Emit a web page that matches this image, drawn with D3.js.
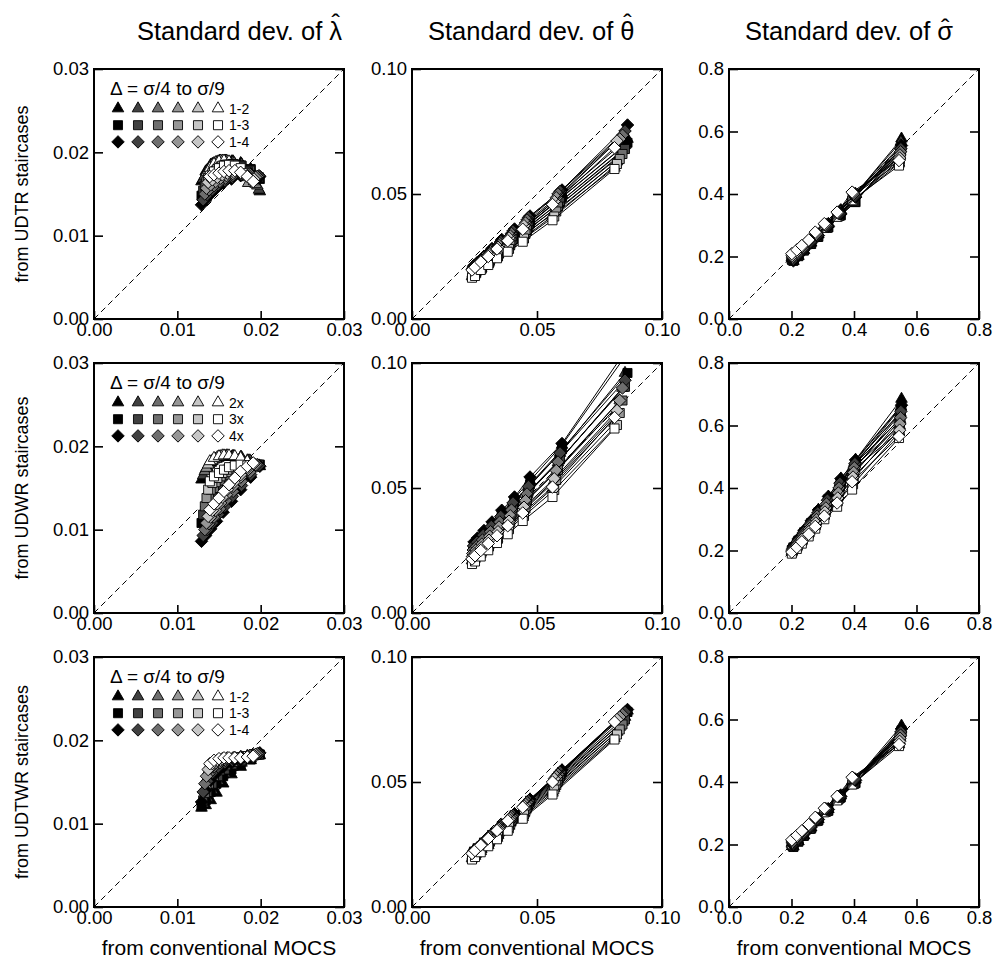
<!DOCTYPE html>
<html><head><meta charset="utf-8">
<script src="https://cdn.jsdelivr.net/npm/d3@7"></script>
<style>body{margin:0;background:#fff;} text{font-family:"Liberation Sans",Arial,Helvetica,sans-serif;}</style>
</head><body>
<svg id="chart" width="994" height="965"></svg>
<script>
// ---------- labels & styling arrays ----------
const grays = ["#000000","#404040","#6e6e6e","#969696","#c6c6c6","#ffffff"];
const shapes = ["triangle","square","diamond"];
const rowLabels = ["from UDTR staircases","from UDWR staircases","from UDTWR staircases"];
const legendTitle = "Δ = σ/4 to σ/9";
const legendLabels = [["1-2","1-3","1-4"],["2x","3x","4x"],["1-2","1-3","1-4"]];
const colParams = ["λ","θ","σ"];
const xAxisLabel = "from conventional MOCS";
const lambdaTicks = [0,0.01,0.02,0.03];
const thetaTicks = [0,0.05,0.10];
const sigmaTicks = [0,0.2,0.4,0.6,0.8];

// ---------- x values (conventional MOCS SD), per gray level ----------
const lamX = [
 [0.0129,0.0134,0.0140,0.0147,0.0155,0.0165,0.0176,0.0188,0.0199],
 [0.0131,0.0136,0.0142,0.0149,0.0157,0.0166,0.0177,0.0188,0.0198],
 [0.0133,0.0138,0.0144,0.0151,0.0158,0.0167,0.0177,0.0187,0.0196],
 [0.0135,0.0140,0.0146,0.0152,0.0159,0.0167,0.0176,0.0185,0.0194],
 [0.0137,0.0142,0.0148,0.0154,0.0160,0.0168,0.0176,0.0184,0.0192],
 [0.0139,0.0144,0.0150,0.0156,0.0162,0.0169,0.0176,0.0184,0.0191]];
const thX = [
 [0.0248,0.0262,0.0288,0.0320,0.0359,0.0410,0.0472,0.0600,0.0862],
 [0.0246,0.0260,0.0285,0.0317,0.0355,0.0404,0.0466,0.0592,0.0852],
 [0.0245,0.0258,0.0282,0.0314,0.0351,0.0398,0.0460,0.0584,0.0842],
 [0.0243,0.0256,0.0280,0.0311,0.0348,0.0393,0.0454,0.0577,0.0831],
 [0.0242,0.0254,0.0277,0.0308,0.0344,0.0388,0.0448,0.0569,0.0820],
 [0.0240,0.0252,0.0275,0.0305,0.0340,0.0383,0.0443,0.0562,0.0810]];
const sgX = [
 [0.206,0.222,0.240,0.263,0.286,0.318,0.358,0.405,0.552],
 [0.205,0.221,0.238,0.261,0.284,0.315,0.355,0.403,0.550],
 [0.204,0.220,0.237,0.259,0.282,0.312,0.352,0.401,0.549],
 [0.203,0.219,0.236,0.258,0.280,0.310,0.350,0.399,0.547],
 [0.202,0.218,0.234,0.256,0.278,0.307,0.348,0.397,0.546],
 [0.201,0.217,0.233,0.255,0.276,0.305,0.346,0.394,0.544]];

// ---------- y values: row 1 (UDTR) ----------
const r1LamT = [
 [0.0165,0.0177,0.0185,0.0188,0.0189,0.0189,0.0187,0.0180,0.0153],
 [0.0168,0.0179,0.0186,0.0189,0.0190,0.0189,0.0186,0.0178,0.0155],
 [0.0172,0.0181,0.0187,0.0190,0.0190,0.0189,0.0185,0.0172,0.0160],
 [0.0176,0.0183,0.0188,0.0190,0.0190,0.0188,0.0178,0.0163,0.0162],
 [0.0179,0.0185,0.0188,0.0190,0.0189,0.0187,0.0181,0.0170,0.0165],
 [0.0181,0.0186,0.0189,0.0190,0.0189,0.0186,0.0182,0.0174,0.0168]];
const r1LamS = [
 [0.0148,0.0160,0.0170,0.0178,0.0183,0.0185,0.0184,0.0180,0.0168],
 [0.0154,0.0164,0.0173,0.0180,0.0184,0.0186,0.0184,0.0179,0.0170],
 [0.0160,0.0168,0.0176,0.0181,0.0185,0.0186,0.0184,0.0178,0.0171],
 [0.0165,0.0172,0.0178,0.0183,0.0185,0.0186,0.0183,0.0177,0.0172],
 [0.0169,0.0175,0.0180,0.0184,0.0185,0.0185,0.0182,0.0176,0.0172],
 [0.0172,0.0177,0.0181,0.0184,0.0185,0.0184,0.0181,0.0175,0.0171]];
const r1LamD = [
 [0.0137,0.0143,0.0150,0.0157,0.0163,0.0168,0.0172,0.0174,0.0171],
 [0.0143,0.0149,0.0155,0.0161,0.0166,0.0170,0.0173,0.0174,0.0172],
 [0.0150,0.0155,0.0160,0.0165,0.0169,0.0172,0.0174,0.0174,0.0171],
 [0.0157,0.0161,0.0165,0.0169,0.0172,0.0174,0.0175,0.0173,0.0170],
 [0.0164,0.0167,0.0170,0.0173,0.0175,0.0176,0.0175,0.0172,0.0168],
 [0.0171,0.0173,0.0175,0.0177,0.0178,0.0178,0.0176,0.0171,0.0165]];
const r1ThT = [
 [0.0200,0.0211,0.0234,0.0263,0.0297,0.0338,0.0392,0.0498,0.0720],
 [0.0194,0.0204,0.0226,0.0254,0.0287,0.0326,0.0377,0.0480,0.0695],
 [0.0188,0.0198,0.0219,0.0246,0.0277,0.0314,0.0362,0.0462,0.0675],
 [0.0182,0.0192,0.0212,0.0238,0.0268,0.0302,0.0349,0.0445,0.0655],
 [0.0176,0.0185,0.0204,0.0229,0.0258,0.0290,0.0335,0.0428,0.0630],
 [0.0170,0.0180,0.0198,0.0222,0.0249,0.0280,0.0322,0.0412,0.0605]];
const r1ThS = [
 [0.0196,0.0207,0.0230,0.0258,0.0292,0.0332,0.0385,0.0488,0.0705],
 [0.0190,0.0200,0.0222,0.0250,0.0282,0.0320,0.0370,0.0468,0.0680],
 [0.0184,0.0194,0.0215,0.0242,0.0272,0.0308,0.0356,0.0450,0.0660],
 [0.0178,0.0188,0.0208,0.0233,0.0262,0.0297,0.0342,0.0430,0.0640],
 [0.0172,0.0181,0.0200,0.0224,0.0250,0.0280,0.0322,0.0410,0.0620],
 [0.0165,0.0172,0.0196,0.0216,0.0243,0.0269,0.0309,0.0395,0.0600]];
const r1ThD = [
 [0.0214,0.0227,0.0251,0.0282,0.0318,0.0360,0.0412,0.0516,0.0776],
 [0.0210,0.0222,0.0246,0.0276,0.0310,0.0352,0.0406,0.0510,0.0752],
 [0.0206,0.0218,0.0241,0.0269,0.0302,0.0342,0.0396,0.0500,0.0735],
 [0.0202,0.0213,0.0235,0.0262,0.0294,0.0332,0.0384,0.0485,0.0720],
 [0.0199,0.0210,0.0231,0.0257,0.0287,0.0324,0.0373,0.0470,0.0712],
 [0.0196,0.0207,0.0228,0.0250,0.0280,0.0313,0.0359,0.0458,0.0685]];
const r1SgT = [
 [0.185,0.201,0.220,0.244,0.271,0.304,0.348,0.400,0.577],
 [0.187,0.203,0.221,0.244,0.270,0.302,0.345,0.399,0.567],
 [0.189,0.205,0.222,0.244,0.269,0.300,0.342,0.397,0.555],
 [0.192,0.207,0.223,0.244,0.268,0.298,0.339,0.395,0.540],
 [0.195,0.209,0.224,0.244,0.268,0.297,0.336,0.393,0.520],
 [0.198,0.211,0.226,0.245,0.268,0.296,0.333,0.392,0.500]];
const r1SgS = [
 [0.186,0.201,0.219,0.240,0.263,0.293,0.332,0.374,0.550],
 [0.188,0.203,0.220,0.240,0.263,0.292,0.331,0.375,0.538],
 [0.190,0.205,0.221,0.241,0.264,0.292,0.330,0.376,0.525],
 [0.193,0.207,0.222,0.242,0.264,0.292,0.329,0.377,0.512],
 [0.196,0.209,0.224,0.243,0.265,0.292,0.328,0.378,0.500],
 [0.200,0.212,0.226,0.244,0.266,0.292,0.327,0.380,0.491]];
const r1SgD = [
 [0.186,0.203,0.222,0.244,0.267,0.297,0.336,0.390,0.555],
 [0.190,0.206,0.224,0.245,0.268,0.298,0.337,0.393,0.545],
 [0.194,0.209,0.226,0.246,0.269,0.299,0.338,0.397,0.535],
 [0.198,0.212,0.228,0.248,0.271,0.300,0.339,0.400,0.525],
 [0.203,0.216,0.231,0.250,0.274,0.302,0.340,0.403,0.515],
 [0.209,0.221,0.235,0.253,0.278,0.305,0.342,0.406,0.507]];

// ---------- y values: row 2 (UDWR) ----------
const r2LamT = [
 [0.0160,0.0172,0.0180,0.0185,0.0187,0.0187,0.0185,0.0181,0.0176],
 [0.0165,0.0175,0.0182,0.0186,0.0188,0.0188,0.0186,0.0182,0.0177],
 [0.0170,0.0178,0.0184,0.0187,0.0188,0.0188,0.0187,0.0183,0.0177],
 [0.0174,0.0181,0.0185,0.0188,0.0189,0.0188,0.0187,0.0183,0.0177],
 [0.0178,0.0183,0.0187,0.0189,0.0189,0.0188,0.0187,0.0183,0.0177],
 [0.0182,0.0186,0.0188,0.0189,0.0189,0.0188,0.0186,0.0182,0.0176]];
const r2LamS = [
 [0.0108,0.0122,0.0136,0.0148,0.0158,0.0166,0.0172,0.0176,0.0178],
 [0.0118,0.0131,0.0143,0.0154,0.0162,0.0169,0.0174,0.0177,0.0178],
 [0.0128,0.0140,0.0150,0.0159,0.0166,0.0171,0.0175,0.0177,0.0178],
 [0.0138,0.0148,0.0157,0.0164,0.0169,0.0173,0.0176,0.0177,0.0177],
 [0.0148,0.0156,0.0162,0.0168,0.0172,0.0175,0.0177,0.0177,0.0176],
 [0.0158,0.0164,0.0168,0.0172,0.0175,0.0177,0.0178,0.0177,0.0175]];
const r2LamD = [
 [0.0086,0.0093,0.0101,0.0110,0.0121,0.0134,0.0148,0.0163,0.0176],
 [0.0093,0.0100,0.0108,0.0118,0.0128,0.0140,0.0153,0.0166,0.0177],
 [0.0100,0.0107,0.0115,0.0125,0.0135,0.0146,0.0158,0.0169,0.0178],
 [0.0108,0.0115,0.0123,0.0132,0.0142,0.0152,0.0163,0.0172,0.0178],
 [0.0116,0.0123,0.0131,0.0139,0.0148,0.0157,0.0166,0.0174,0.0179],
 [0.0124,0.0131,0.0138,0.0146,0.0154,0.0162,0.0170,0.0176,0.0180]];
const r2ThT = [
 [0.0278,0.0293,0.0323,0.0358,0.0402,0.0459,0.0529,0.0672,0.1040],
 [0.0266,0.0281,0.0308,0.0342,0.0383,0.0436,0.0503,0.0640,0.0960],
 [0.0252,0.0266,0.0291,0.0323,0.0362,0.0410,0.0474,0.0602,0.0900],
 [0.0238,0.0251,0.0274,0.0305,0.0341,0.0385,0.0445,0.0566,0.0850],
 [0.0224,0.0236,0.0258,0.0287,0.0320,0.0361,0.0417,0.0530,0.0800],
 [0.0210,0.0222,0.0242,0.0270,0.0300,0.0338,0.0392,0.0498,0.0760]];
const r2ThS = [
 [0.0269,0.0285,0.0314,0.0349,0.0391,0.0447,0.0515,0.0655,0.0960],
 [0.0254,0.0269,0.0296,0.0330,0.0369,0.0420,0.0485,0.0615,0.0905],
 [0.0238,0.0252,0.0276,0.0307,0.0344,0.0390,0.0451,0.0573,0.0850],
 [0.0222,0.0235,0.0257,0.0286,0.0320,0.0362,0.0418,0.0532,0.0800],
 [0.0208,0.0219,0.0239,0.0266,0.0297,0.0335,0.0388,0.0492,0.0752],
 [0.0196,0.0206,0.0226,0.0251,0.0280,0.0315,0.0368,0.0464,0.0738]];
const r2ThD = [
 [0.0284,0.0300,0.0330,0.0364,0.0411,0.0464,0.0544,0.0678,0.1060],
 [0.0268,0.0283,0.0311,0.0346,0.0386,0.0440,0.0506,0.0640,0.0931],
 [0.0252,0.0266,0.0292,0.0325,0.0364,0.0412,0.0476,0.0604,0.0900],
 [0.0238,0.0252,0.0276,0.0307,0.0344,0.0389,0.0449,0.0570,0.0850],
 [0.0226,0.0239,0.0261,0.0291,0.0325,0.0367,0.0423,0.0537,0.0810],
 [0.0216,0.0229,0.0250,0.0278,0.0309,0.0349,0.0400,0.0504,0.0782]];
const r2SgT = [
 [0.216,0.238,0.263,0.294,0.330,0.372,0.430,0.490,0.685],
 [0.212,0.233,0.257,0.287,0.321,0.362,0.417,0.485,0.660],
 [0.208,0.228,0.251,0.280,0.312,0.352,0.404,0.480,0.640],
 [0.204,0.223,0.245,0.272,0.303,0.341,0.391,0.473,0.620],
 [0.200,0.218,0.238,0.264,0.293,0.330,0.377,0.465,0.600],
 [0.196,0.212,0.231,0.256,0.283,0.318,0.362,0.455,0.580]];
const r2SgS = [
 [0.210,0.232,0.258,0.288,0.322,0.364,0.419,0.478,0.660],
 [0.206,0.227,0.251,0.280,0.312,0.352,0.404,0.463,0.640],
 [0.202,0.222,0.244,0.272,0.302,0.340,0.389,0.447,0.620],
 [0.198,0.216,0.237,0.263,0.292,0.327,0.373,0.430,0.600],
 [0.194,0.211,0.230,0.254,0.281,0.314,0.357,0.412,0.580],
 [0.190,0.205,0.222,0.245,0.270,0.300,0.340,0.395,0.560]];
const r2SgD = [
 [0.215,0.238,0.264,0.295,0.330,0.373,0.430,0.490,0.665],
 [0.211,0.233,0.257,0.287,0.320,0.361,0.415,0.478,0.645],
 [0.207,0.228,0.250,0.279,0.310,0.349,0.400,0.465,0.625],
 [0.203,0.222,0.243,0.270,0.299,0.336,0.384,0.450,0.605],
 [0.199,0.216,0.236,0.261,0.288,0.323,0.368,0.435,0.585],
 [0.195,0.210,0.228,0.252,0.277,0.310,0.352,0.420,0.565]];

// ---------- y values: row 3 (UDTWR) ----------
const r3LamT = [
 [0.0119,0.0122,0.0128,0.0137,0.0148,0.0159,0.0168,0.0176,0.0182],
 [0.0124,0.0131,0.0140,0.0151,0.0160,0.0168,0.0173,0.0178,0.0182],
 [0.0131,0.0141,0.0151,0.0160,0.0167,0.0172,0.0176,0.0179,0.0182],
 [0.0140,0.0151,0.0160,0.0167,0.0172,0.0175,0.0178,0.0180,0.0182],
 [0.0150,0.0160,0.0167,0.0172,0.0175,0.0177,0.0179,0.0181,0.0182],
 [0.0160,0.0168,0.0173,0.0176,0.0178,0.0179,0.0180,0.0181,0.0182]];
const r3LamS = [
 [0.0121,0.0128,0.0138,0.0148,0.0157,0.0165,0.0171,0.0177,0.0183],
 [0.0128,0.0138,0.0148,0.0157,0.0165,0.0171,0.0175,0.0179,0.0183],
 [0.0137,0.0148,0.0157,0.0164,0.0170,0.0174,0.0177,0.0180,0.0183],
 [0.0147,0.0157,0.0165,0.0170,0.0174,0.0177,0.0179,0.0181,0.0183],
 [0.0157,0.0165,0.0171,0.0174,0.0177,0.0178,0.0179,0.0181,0.0182],
 [0.0166,0.0172,0.0175,0.0177,0.0178,0.0179,0.0180,0.0181,0.0182]];
const r3LamD = [
 [0.0126,0.0140,0.0152,0.0161,0.0168,0.0173,0.0177,0.0181,0.0185],
 [0.0138,0.0151,0.0161,0.0168,0.0173,0.0176,0.0179,0.0182,0.0184],
 [0.0148,0.0160,0.0168,0.0173,0.0176,0.0178,0.0180,0.0182,0.0184],
 [0.0157,0.0167,0.0173,0.0176,0.0178,0.0179,0.0180,0.0181,0.0183],
 [0.0165,0.0172,0.0176,0.0178,0.0179,0.0179,0.0179,0.0180,0.0182],
 [0.0172,0.0176,0.0178,0.0179,0.0179,0.0179,0.0179,0.0180,0.0181]];
const r3ThT = [
 [0.0224,0.0237,0.0261,0.0291,0.0327,0.0371,0.0430,0.0546,0.0785],
 [0.0218,0.0230,0.0253,0.0282,0.0316,0.0359,0.0415,0.0528,0.0760],
 [0.0212,0.0224,0.0246,0.0274,0.0307,0.0348,0.0402,0.0511,0.0740],
 [0.0206,0.0218,0.0239,0.0266,0.0298,0.0337,0.0389,0.0494,0.0720],
 [0.0200,0.0211,0.0231,0.0257,0.0287,0.0324,0.0374,0.0476,0.0700],
 [0.0194,0.0204,0.0223,0.0247,0.0276,0.0310,0.0359,0.0457,0.0675]];
const r3ThS = [
 [0.0222,0.0235,0.0258,0.0288,0.0323,0.0367,0.0425,0.0540,0.0780],
 [0.0216,0.0228,0.0250,0.0279,0.0313,0.0355,0.0411,0.0523,0.0750],
 [0.0210,0.0222,0.0243,0.0271,0.0304,0.0344,0.0398,0.0506,0.0730],
 [0.0204,0.0215,0.0236,0.0263,0.0294,0.0332,0.0384,0.0488,0.0710],
 [0.0198,0.0208,0.0228,0.0254,0.0284,0.0320,0.0370,0.0470,0.0690],
 [0.0190,0.0200,0.0219,0.0243,0.0271,0.0305,0.0353,0.0450,0.0670]];
const r3ThD = [
 [0.0225,0.0238,0.0262,0.0292,0.0328,0.0373,0.0431,0.0548,0.0790],
 [0.0222,0.0235,0.0258,0.0288,0.0324,0.0367,0.0425,0.0540,0.0780],
 [0.0220,0.0232,0.0255,0.0285,0.0319,0.0362,0.0418,0.0531,0.0770],
 [0.0218,0.0230,0.0252,0.0281,0.0315,0.0356,0.0411,0.0522,0.0760],
 [0.0216,0.0228,0.0249,0.0277,0.0310,0.0350,0.0404,0.0513,0.0750],
 [0.0214,0.0226,0.0247,0.0274,0.0306,0.0345,0.0399,0.0500,0.0740]];
const r3SgT = [
 [0.193,0.210,0.229,0.254,0.281,0.313,0.357,0.408,0.580],
 [0.195,0.211,0.230,0.254,0.280,0.312,0.355,0.407,0.567],
 [0.197,0.213,0.231,0.254,0.280,0.311,0.353,0.406,0.556],
 [0.199,0.215,0.232,0.254,0.279,0.310,0.351,0.405,0.544],
 [0.202,0.217,0.234,0.255,0.279,0.309,0.349,0.404,0.532],
 [0.205,0.219,0.235,0.256,0.279,0.308,0.347,0.403,0.520]];
const r3SgS = [
 [0.192,0.209,0.228,0.251,0.277,0.308,0.351,0.397,0.565],
 [0.194,0.210,0.228,0.251,0.276,0.307,0.349,0.396,0.555],
 [0.196,0.212,0.229,0.251,0.276,0.306,0.347,0.395,0.545],
 [0.198,0.213,0.230,0.251,0.275,0.305,0.345,0.394,0.535],
 [0.200,0.215,0.231,0.252,0.275,0.304,0.343,0.393,0.525],
 [0.203,0.217,0.232,0.252,0.275,0.303,0.341,0.392,0.515]];
const r3SgD = [
 [0.198,0.215,0.233,0.256,0.280,0.312,0.354,0.405,0.570],
 [0.201,0.217,0.234,0.257,0.281,0.312,0.354,0.407,0.560],
 [0.204,0.219,0.236,0.258,0.282,0.313,0.354,0.409,0.550],
 [0.207,0.222,0.238,0.260,0.283,0.314,0.354,0.411,0.540],
 [0.211,0.225,0.241,0.262,0.285,0.315,0.354,0.413,0.530],
 [0.215,0.229,0.244,0.264,0.287,0.316,0.354,0.415,0.520]];

// ---------- build panel table from the arrays ----------
const colInfo = [
 {x: lamX, ticks: lambdaTicks, fmt: d3.format(".2f")},
 {x: thX, ticks: thetaTicks, fmt: d3.format(".2f")},
 {x: sgX, ticks: sigmaTicks, fmt: d3.format(".1f")}];
const panelY = [
 [[r1LamT,r1LamS,r1LamD],[r1ThT,r1ThS,r1ThD],[r1SgT,r1SgS,r1SgD]],
 [[r2LamT,r2LamS,r2LamD],[r2ThT,r2ThS,r2ThD],[r2SgT,r2SgS,r2SgD]],
 [[r3LamT,r3LamS,r3LamD],[r3ThT,r3ThS,r3ThD],[r3SgT,r3SgS,r3SgD]]];

// ---------- layout ----------
const colLeft = [94, 412, 729];
const rowTop = [69, 363, 657];
const titleLeft = [137, 428, 745];
const W = 250, H = 250;
const svg = d3.select("#chart");
svg.append("rect").attr("width",994).attr("height",965).attr("fill","#fff");

function symbolPath(shape){
  if (shape==="triangle") return d3.symbol(d3.symbolTriangle, 58)();
  if (shape==="square") return d3.symbol(d3.symbolSquare, 82)();
  return d3.symbol(d3.symbolSquare, 78)();
}
function symbolTransform(shape, x, y){
  return shape==="diamond" ? `translate(${x},${y}) rotate(45)` : `translate(${x},${y})`;
}

for (let r=0;r<3;r++){
  for (let c=0;c<3;c++){
    const L = colLeft[c], T = rowTop[r];
    const info = colInfo[c];
    const maxV = info.ticks[info.ticks.length-1];
    const x = d3.scaleLinear().domain([0,maxV]).range([L, L+W]);
    const y = d3.scaleLinear().domain([0,maxV]).range([T+H, T]);
    const g = svg.append("g");
    const clipId = `clip-${r}-${c}`;
    svg.append("clipPath").attr("id",clipId).append("rect")
      .attr("x",L).attr("y",T).attr("width",W).attr("height",H);

    g.append("line").attr("clip-path",`url(#${clipId})`)
      .attr("x1",x(0)).attr("y1",y(0)).attr("x2",x(maxV)).attr("y2",y(maxV))
      .attr("stroke","#000").attr("stroke-width",1).attr("stroke-dasharray","6,4");

    const dg = g.append("g").attr("clip-path",`url(#${clipId})`);
    const line = d3.line().x(d=>x(d[0])).y(d=>y(d[1]));
    for (let s=0;s<3;s++){
      const ys = panelY[r][c][s];
      for (let k=0;k<6;k++){
        const pts = ys[k].map((v,i)=>[info.x[k][i], v]);
        dg.append("path").attr("d", line(pts)).attr("fill","none")
          .attr("stroke","#000").attr("stroke-width",1);
        dg.selectAll(null).data(pts).enter().append("path")
          .attr("d", symbolPath(shapes[s]))
          .attr("transform", d=>symbolTransform(shapes[s], x(d[0]), y(d[1])))
          .attr("fill", grays[k]).attr("stroke","#000").attr("stroke-width",0.9);
      }
    }

    const styleAxis = sel => {
      sel.select(".domain").remove();
      sel.selectAll(".tick line").attr("stroke","#000").attr("stroke-width",1.6);
      sel.selectAll(".tick text").attr("fill","#000").attr("font-size",18.5)
        .attr("font-family","'Liberation Sans',Arial,sans-serif");
    };
    g.append("g").attr("transform",`translate(${L},0)`)
      .call(d3.axisLeft(y).tickValues(info.ticks).tickFormat(info.fmt).tickSize(-9).tickPadding(5))
      .call(styleAxis);
    g.append("g").attr("transform",`translate(${L+W},0)`)
      .call(d3.axisRight(y).tickValues(info.ticks).tickFormat("").tickSize(-9))
      .call(styleAxis);
    g.append("g").attr("transform",`translate(0,${T+H})`)
      .call(d3.axisBottom(x).tickValues(info.ticks).tickFormat(info.fmt).tickSize(-8).tickPadding(4))
      .call(styleAxis);
    g.append("rect").attr("x",L).attr("y",T).attr("width",W).attr("height",H)
      .attr("fill","none").attr("stroke","#000").attr("stroke-width",2);

    if (c===0){
      const lg = g.append("g");
      lg.append("text").attr("x",L+16).attr("y",T+26).attr("font-size",19).text(legendTitle);
      for (let s=0;s<3;s++){
        const yy = T+39.5+s*16.7;
        for (let k=0;k<6;k++){
          lg.append("path").attr("d",symbolPath(shapes[s]))
            .attr("transform",symbolTransform(shapes[s], L+24+k*20, yy))
            .attr("fill",grays[k]).attr("stroke","#000").attr("stroke-width",0.9);
        }
        lg.append("text").attr("x",L+135).attr("y",yy+5).attr("font-size",14).text(legendLabels[r][s]);
      }
    }
  }
  const cy = rowTop[r]+H/2;
  svg.append("text").attr("transform",`translate(28,${cy}) rotate(-90)`)
    .attr("text-anchor","middle").attr("font-size",18).text(rowLabels[r]);
}

for (let c=0;c<3;c++){
  const cx = colLeft[c]+W/2;
  const t = svg.append("text").attr("x",titleLeft[c]).attr("y",40).attr("text-anchor","start").attr("font-size",25.5);
  const pre = "Standard dev. of ";
  t.append("tspan").text(pre);
  t.append("tspan").text(colParams[c]);
  const ext = t.node().getExtentOfChar(pre.length);
  const hx = ext.x + ext.width/2;
  const up = c===2 ? 3 : 8;
  svg.append("text").attr("x",hx).attr("y",40-up).attr("text-anchor","middle")
    .attr("font-size",25.5).text("ˆ");
  svg.append("text").attr("x",cx).attr("y",955).attr("text-anchor","middle")
    .attr("font-size",21).text(xAxisLabel);
}
</script>
</body></html>
